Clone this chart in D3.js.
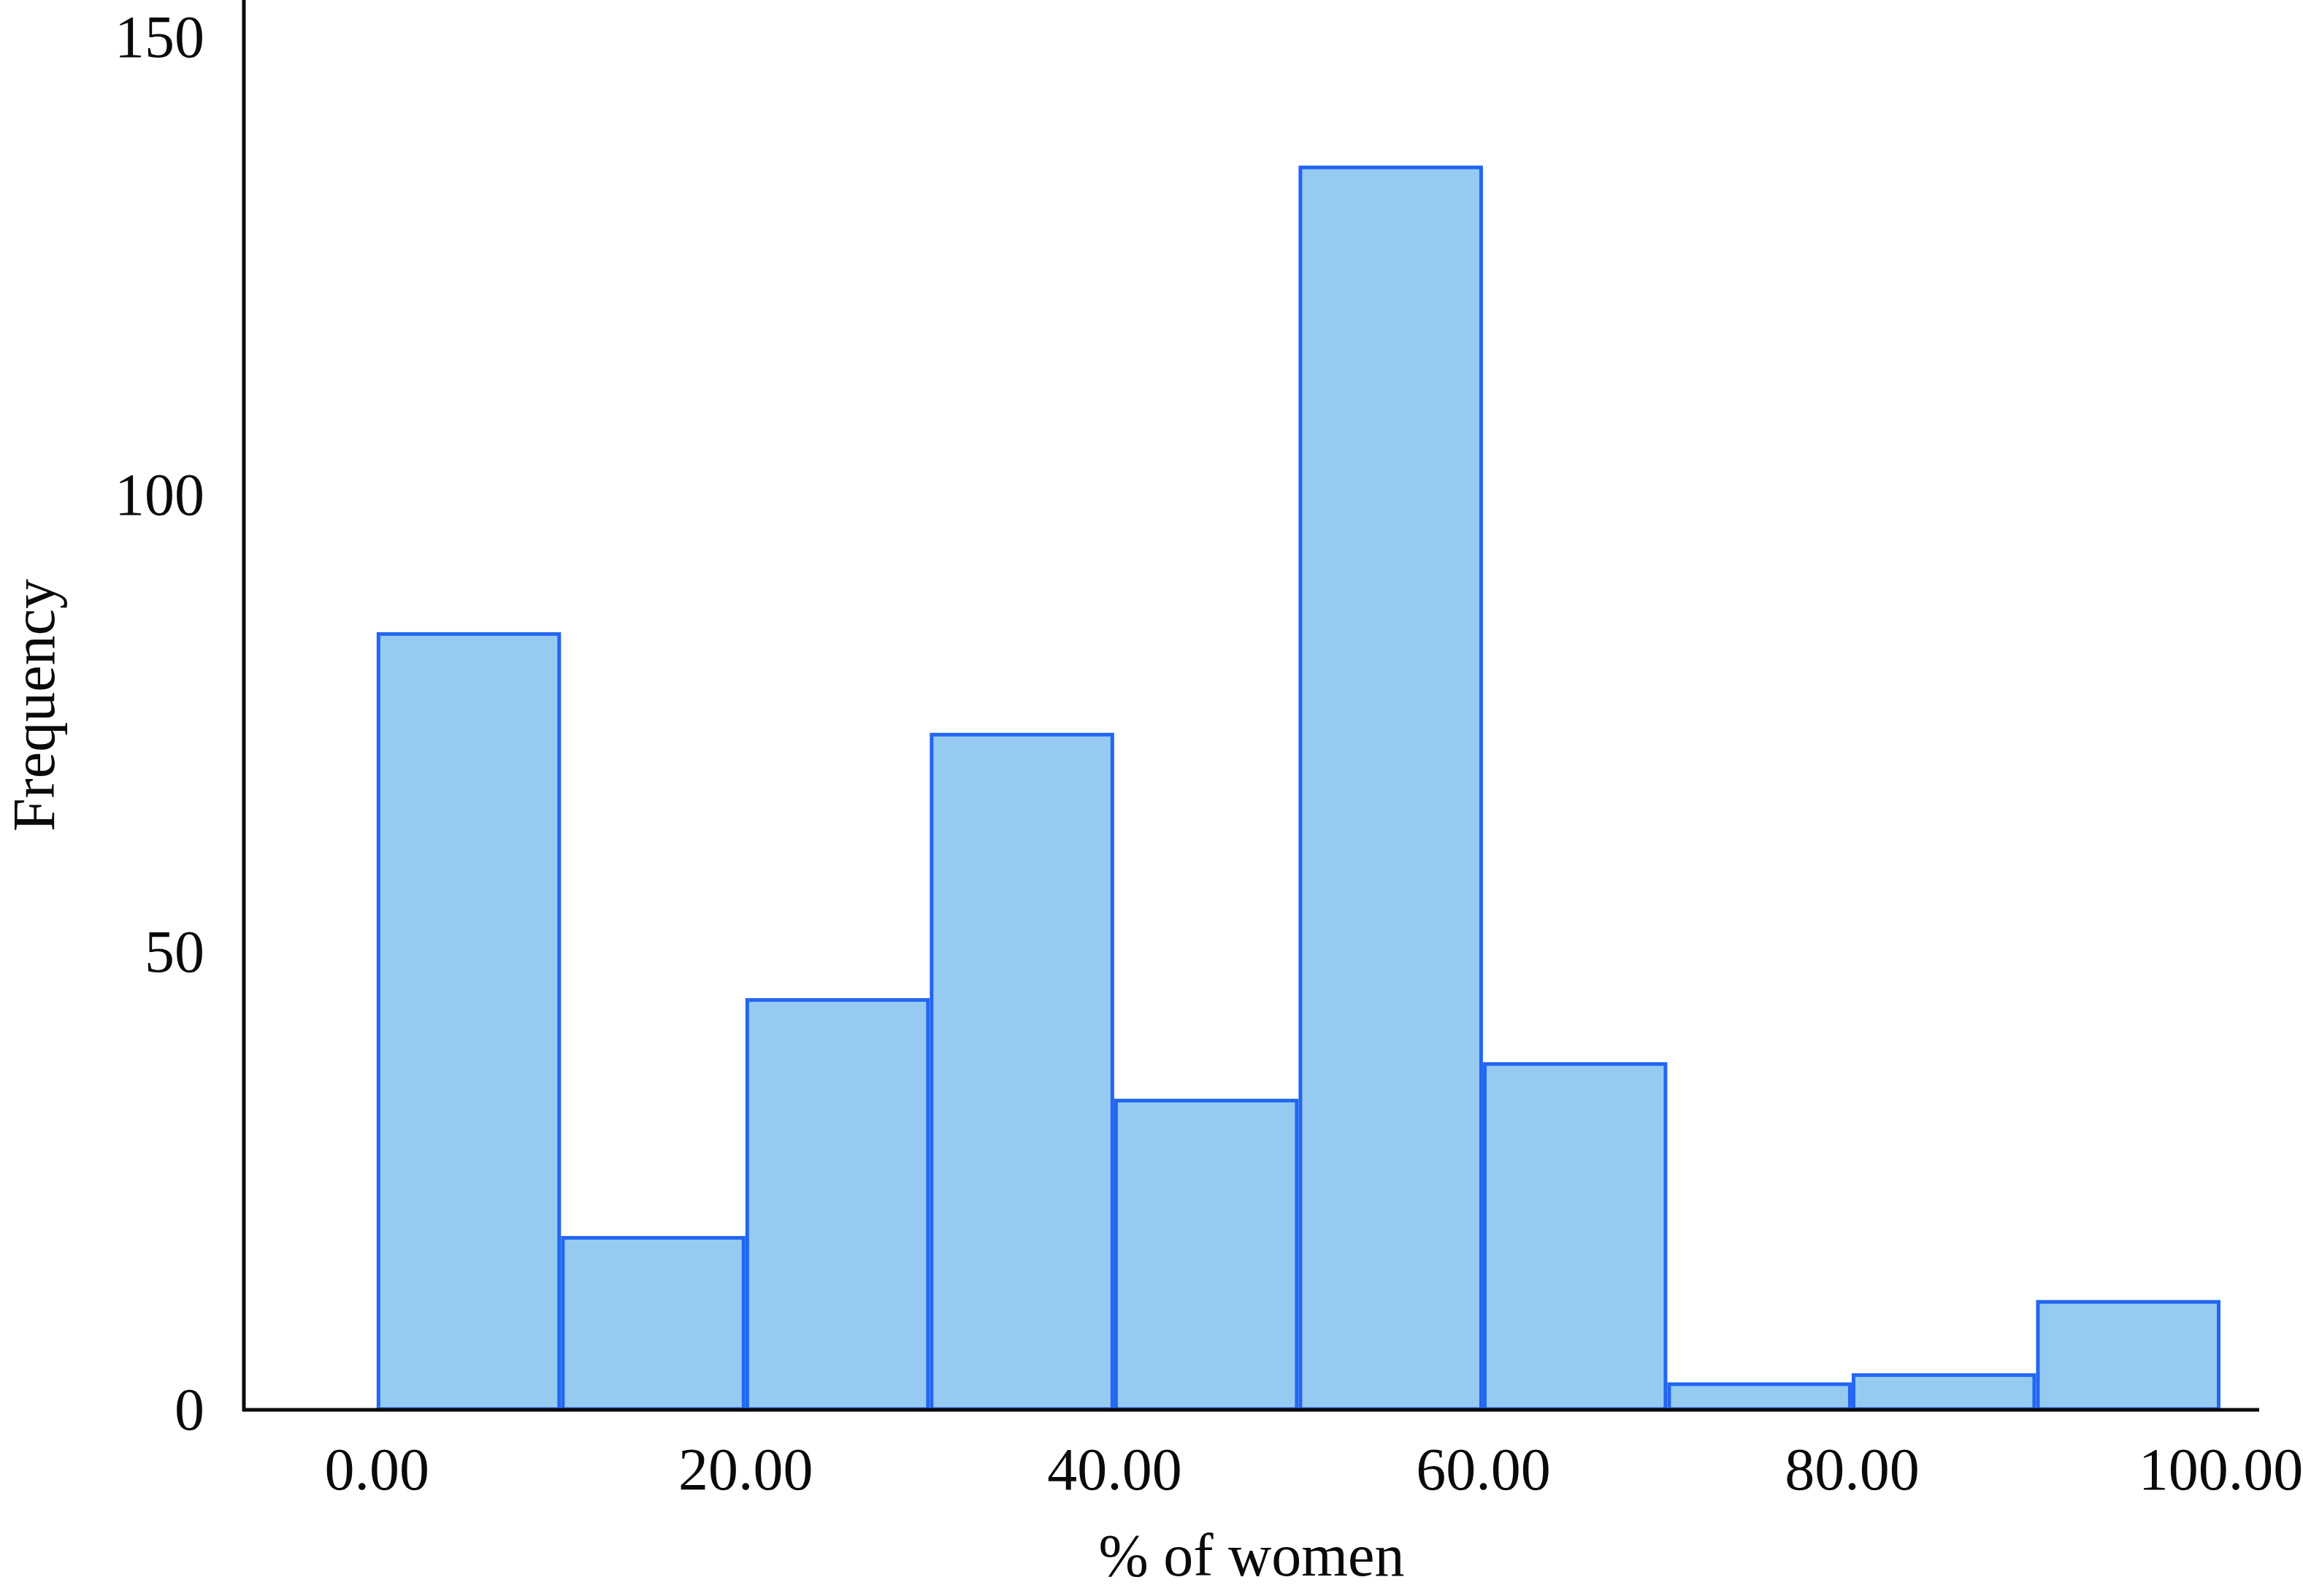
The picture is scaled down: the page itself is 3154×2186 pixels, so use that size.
<!DOCTYPE html>
<html>
<head>
<meta charset="utf-8">
<script src="https://cdn.jsdelivr.net/npm/d3@7/dist/d3.min.js"></script>
<style>
  html, body { margin: 0; padding: 0; background: #ffffff; }
  svg { display: block; }
  text { font-family: "Liberation Serif", "Times New Roman", serif; fill: #0a0a0a; }
</style>
</head>
<body>
<script>
// ---- Data ----
const binStart  = [0, 10, 20, 30, 40, 50, 60, 70, 80, 90];
const binEnd    = [10, 20, 30, 40, 50, 60, 70, 80, 90, 100];
const frequency = [85, 19, 45, 74, 34, 136, 38, 3, 4, 12];
const xTicks = [0, 20, 40, 60, 80, 100];
const yTicks = [0, 50, 100, 150];
const xLabel = "% of women";
const yLabel = "Frequency";

const W = 3154, H = 2186;
const FS = 82;
const svg = d3.select("body").append("svg").attr("width", W).attr("height", H);

const x = d3.scaleLinear().domain([-7.2, 102.1]).range([334, 3094]);
const y = d3.scaleLinear().domain([0, 154.1]).range([1931, 0]);

const bins = binStart.map((s, i) => ({ x0: s, x1: binEnd[i], n: frequency[i] }));
const sw = 5;

svg.append("g").selectAll("rect").data(bins).join("rect")
  .attr("x", d => x(d.x0) + sw / 2)
  .attr("y", d => y(d.n) + sw / 2)
  .attr("width", d => x(d.x1) - x(d.x0) - sw)
  .attr("height", d => y(0) - y(d.n) - sw / 2 - 1)
  .attr("fill", "#96caf1")
  .attr("stroke", "#2266f2")
  .attr("stroke-width", sw);

// X axis
const gx = svg.append("g").attr("transform", `translate(0,${y(0)})`)
  .call(d3.axisBottom(x).tickValues(xTicks).tickFormat(d3.format(".2f"))
    .tickSize(0).tickSizeOuter(0).tickPadding(51));
gx.select(".domain").attr("stroke", "#0a0a0a").attr("stroke-width", 5)
  .attr("d", `M${x.range()[0] - 2},0H${x.range()[1]}`);
gx.selectAll("text").attr("font-size", FS).style("font-family", "'Liberation Serif', serif").attr("fill", "#0a0a0a");

// Y axis
const gy = svg.append("g").attr("transform", `translate(${x.range()[0]},0)`)
  .call(d3.axisLeft(y).tickValues(yTicks).tickFormat(d3.format("d"))
    .tickSize(0).tickSizeOuter(0).tickPadding(54));
gy.select(".domain").attr("stroke", "#0a0a0a").attr("stroke-width", 5)
  .attr("d", `M0,${y(0) + 2}V0`);
gy.selectAll("text").attr("font-size", FS).style("font-family", "'Liberation Serif', serif").attr("fill", "#0a0a0a");

// Axis titles
svg.append("text")
  .attr("x", (x.range()[0] + x.range()[1]) / 2)
  .attr("y", 2158)
  .attr("text-anchor", "middle")
  .attr("font-size", FS)
  .text(xLabel);

svg.append("text")
  .attr("transform", `translate(74,966) rotate(-90)`)
  .attr("text-anchor", "middle")
  .attr("font-size", FS)
  .text(yLabel);
</script>
</body>
</html>
